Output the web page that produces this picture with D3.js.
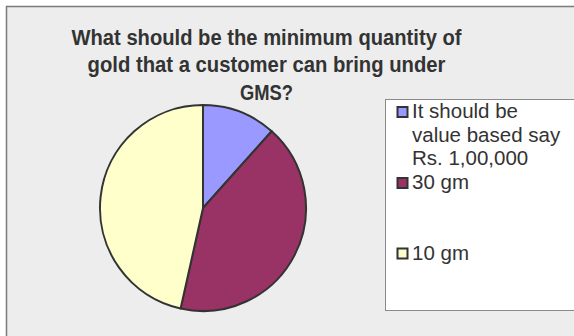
<!DOCTYPE html>
<html><head><meta charset="utf-8">
<script src="https://cdn.jsdelivr.net/npm/d3@7"></script>
<style>html,body{margin:0;padding:0;background:#fff;}svg{display:block;}</style>
</head><body>
<svg id="c" width="574" height="336"></svg>
<script>
const titleLines = ["What should be the minimum quantity of", "gold that a customer can bring under", "GMS?"];
const categories = ["It should be value based say Rs. 1,00,000", "30 gm", "10 gm"];
const legendLines = [["It should be", "value based say", "Rs. 1,00,000"], ["30 gm"], ["10 gm"]];
const values = [5, 18, 20];
const colors = ["#9999FF", "#993366", "#FFFFCC"];

const svg = d3.select("#c");
// chart area
svg.append("rect").attr("x", 6.5).attr("y", 6.5).attr("width", 600).attr("height", 400)
  .attr("fill", "#EDEDED").attr("stroke", "#7a7a7a").attr("stroke-width", 1.5);

// title
const titleW = [390, 358, 53];
const tb = [44.5, 71.5, 99.5];
titleLines.forEach((t, i) => {
  svg.append("text").attr("x", 266.5).attr("y", tb[i]).attr("text-anchor", "middle")
    .attr("font-family", "Liberation Sans, Arial, sans-serif").attr("font-weight", "bold")
    .attr("font-size", 22.5).attr("fill", "#333")
    .attr("textLength", titleW[i]).attr("lengthAdjust", "spacingAndGlyphs")
    .text(t);
});

// pie
const cx = 203, cy = 208, r = 103;
const pie = d3.pie().sort(null).value(d => d)(values);
const arc = d3.arc().innerRadius(0).outerRadius(r);
svg.append("g").attr("transform", `translate(${cx},${cy})`)
  .selectAll("path").data(pie).join("path")
  .attr("d", arc).attr("fill", (d, i) => colors[i])
  .attr("stroke", "#333").attr("stroke-width", 2).attr("stroke-linejoin", "round");

// legend
svg.append("rect").attr("x", 385.5).attr("y", 99.5).attr("width", 200).attr("height", 211)
  .attr("fill", "#fff").attr("stroke", "#8a8a8a").attr("stroke-width", 1);
const firstBase = [118, 189, 259.5];
const lineH = 23.5;
legendLines.forEach((lines, i) => {
  svg.append("rect").attr("x", 397.5).attr("y", firstBase[i] - 11).attr("width", 10).attr("height", 10)
    .attr("fill", colors[i]).attr("stroke", "#333").attr("stroke-width", 2);
  lines.forEach((l, j) => {
    svg.append("text").attr("x", 412).attr("y", firstBase[i] + j * lineH)
      .attr("font-family", "Liberation Sans, Arial, sans-serif").attr("font-size", 20.5)
      .attr("fill", "#333").text(l);
  });
});
</script>
</body></html>
